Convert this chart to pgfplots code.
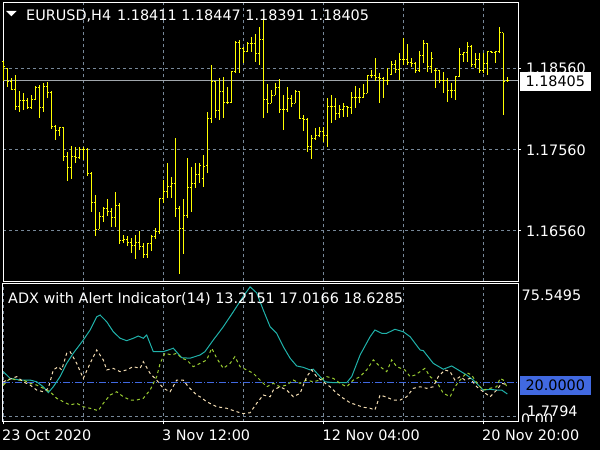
\documentclass[border=0pt]{standalone}
\usepackage{pgfplots}
\pgfplotsset{compat=1.18}
\usepackage{pgfplotstable}
\usepackage{fontspec}
\setmainfont{DejaVu Sans}

\definecolor{barc}{RGB}{255,255,0}
\definecolor{gridc}{RGB}{119,136,153}
\definecolor{bidc}{RGB}{160,166,172}
\definecolor{adxc}{RGB}{32,178,170}
\definecolor{pdic}{RGB}{154,205,50}
\definecolor{mdic}{RGB}{245,222,179}
\definecolor{lvlc}{RGB}{65,105,225}

\newcommand\mt{\fontsize{14.4bp}{17bp}\selectfont}

% EURUSD H4 bars: index, open, high, low, close
\pgfplotstableread{
i O H L C
0 1.18638 1.18650 1.18407 1.18580
1 1.18555 1.18560 1.18325 1.18391
2 1.18391 1.18436 1.18292 1.18301
3 1.18301 1.18477 1.18045 1.18091
4 1.18091 1.18280 1.18024 1.18168
5 1.18168 1.18251 1.18045 1.18160
6 1.18160 1.18189 1.18057 1.18078
7 1.18078 1.18230 1.18057 1.18172
8 1.18172 1.18341 1.18168 1.18325
9 1.18325 1.18354 1.17950 1.18078
10 1.18078 1.18375 1.18024 1.18341
11 1.18341 1.18387 1.18189 1.18259
12 1.18259 1.18280 1.17814 1.17847
13 1.17847 1.17860 1.17675 1.17789
14 1.17789 1.17839 1.17724 1.17831
15 1.17831 1.17839 1.17419 1.17468
16 1.17468 1.17526 1.17172 1.17341
17 1.17341 1.17601 1.17193 1.17468
18 1.17468 1.17592 1.17394 1.17461
19 1.17461 1.17584 1.17436 1.17563
20 1.17563 1.17584 1.17428 1.17563
21 1.17563 1.17580 1.17234 1.17255
22 1.17255 1.17280 1.16789 1.16909
23 1.16909 1.16996 1.16493 1.16572
24 1.16572 1.16789 1.16572 1.16733
25 1.16733 1.16844 1.16666 1.16823
26 1.16823 1.16946 1.16740 1.16789
27 1.16789 1.16839 1.16597 1.16720
28 1.16720 1.17029 1.16597 1.16872
29 1.16872 1.16893 1.16387 1.16428
30 1.16428 1.16502 1.16407 1.16452
31 1.16452 1.16489 1.16366 1.16412
32 1.16412 1.16461 1.16283 1.16366
33 1.16366 1.16502 1.16205 1.16407
34 1.16407 1.16551 1.16317 1.16357
35 1.16357 1.16399 1.16214 1.16255
36 1.16255 1.16407 1.16222 1.16399
37 1.16399 1.16502 1.16304 1.16489
38 1.16489 1.16584 1.16452 1.16551
39 1.16551 1.16962 1.16514 1.16955
40 1.16955 1.17181 1.16901 1.17036
41 1.17036 1.17387 1.16955 1.17098
42 1.17098 1.17222 1.16955 1.17140
43 1.17140 1.17696 1.16728 1.16831
44 1.16831 1.16860 1.16017 1.16580
45 1.16580 1.16946 1.16267 1.16740
46 1.16740 1.17449 1.16715 1.17091
47 1.17091 1.17345 1.16789 1.17140
48 1.17140 1.17394 1.17086 1.17243
49 1.17243 1.17394 1.17140 1.17354
50 1.17205 1.17489 1.17098 1.17345
51 1.17354 1.18017 1.17263 1.17943
52 1.17943 1.18601 1.17881 1.18394
53 1.18394 1.18403 1.17943 1.18036
54 1.18036 1.18436 1.17922 1.18271
55 1.18271 1.18456 1.17943 1.18135
56 1.18135 1.18333 1.18115 1.18135
57 1.18135 1.18526 1.18128 1.18518
58 1.18518 1.18901 1.18498 1.18881
59 1.18881 1.18909 1.18498 1.18807
60 1.18807 1.18823 1.18625 1.18765
61 1.18765 1.18881 1.18760 1.18868
62 1.18868 1.18950 1.18765 1.18868
63 1.18868 1.18983 1.18641 1.18745
64 1.18745 1.19066 1.18601 1.18918
65 1.18918 1.19197 1.17943 1.18177
66 1.18177 1.18366 1.18004 1.18128
67 1.18128 1.18292 1.18128 1.18230
68 1.18230 1.18382 1.18230 1.18325
69 1.18325 1.18424 1.18004 1.18054
70 1.18054 1.18230 1.17798 1.18054
71 1.18054 1.18333 1.18024 1.18189
72 1.18189 1.18230 1.18086 1.18128
73 1.18128 1.18292 1.18128 1.18271
74 1.18271 1.18280 1.17943 1.17943
75 1.17943 1.17983 1.17786 1.17922
76 1.17922 1.17943 1.17530 1.17592
77 1.17592 1.17736 1.17440 1.17699
78 1.17699 1.17819 1.17675 1.17736
79 1.17736 1.17839 1.17712 1.17777
80 1.17777 1.17839 1.17654 1.17736
81 1.17736 1.18189 1.17584 1.18086
82 1.18086 1.18230 1.17881 1.18086
83 1.18086 1.18189 1.17922 1.18004
84 1.18004 1.18107 1.17943 1.18054
85 1.18054 1.18128 1.17962 1.18086
86 1.18086 1.18094 1.17962 1.18078
87 1.18078 1.18271 1.17992 1.18205
88 1.18205 1.18341 1.18073 1.18202
89 1.18202 1.18313 1.18128 1.18205
90 1.18205 1.18366 1.18189 1.18251
91 1.18251 1.18477 1.18251 1.18477
92 1.18477 1.18539 1.18436 1.18477
93 1.18477 1.18691 1.18403 1.18444
94 1.18444 1.18498 1.18135 1.18436
95 1.18436 1.18456 1.18197 1.18415
96 1.18415 1.18560 1.18354 1.18415
97 1.18480 1.18654 1.18477 1.18601
98 1.18601 1.18662 1.18498 1.18547
99 1.18547 1.18745 1.18415 1.18671
100 1.18671 1.18930 1.18601 1.18671
101 1.18671 1.18860 1.18601 1.18629
102 1.18629 1.18683 1.18580 1.18622
103 1.18622 1.18641 1.18498 1.18539
104 1.18539 1.18773 1.18518 1.18724
105 1.18724 1.18909 1.18622 1.18868
106 1.18868 1.18868 1.18518 1.18580
107 1.18580 1.18765 1.18498 1.18683
108 1.18539 1.18560 1.18313 1.18539
109 1.18539 1.18539 1.18375 1.18415
110 1.18415 1.18518 1.18251 1.18415
111 1.18415 1.18436 1.18147 1.18292
112 1.18292 1.18375 1.18189 1.18292
113 1.18292 1.18465 1.18168 1.18456
114 1.18456 1.18807 1.18456 1.18736
115 1.18736 1.18765 1.18641 1.18752
116 1.18752 1.18888 1.18641 1.18835
117 1.18835 1.18847 1.18580 1.18601
118 1.18601 1.18745 1.18560 1.18671
119 1.18671 1.18752 1.18498 1.18539
120 1.18539 1.18745 1.18498 1.18622
121 1.18622 1.18777 1.18477 1.18765
122 1.18765 1.18773 1.18745 1.18757
123 1.18757 1.18773 1.18622 1.18765
124 1.18765 1.19066 1.18745 1.18999
125 1.18999 1.18999 1.17983 1.18403
126 1.18411 1.18447 1.18391 1.18405
}\bars

\begin{document}
\begin{tikzpicture}
\fill[black] (0,0) rectangle (600bp,450bp);

% price window
\begin{axis}[
    at={(3bp,168.7bp)}, anchor=south west, scale only axis,
    width=515bp, height=279bp,
    xmin=-0.075, xmax=128.675, ymin=1.15930, ymax=1.19375,
    clip=false,
    axis line style={draw=white, line width=1bp},
    xtick={20,40,60,80,100,120}, xticklabels={}, xtick style={draw=none},
    ytick={1.16560,1.17560,1.18560}, yticklabels={}, ytick pos=right,
    ytick style={draw=white, line width=1bp},
    tick align=outside, major tick length=3bp,
    grid=major,
    major grid style={draw=gridc, line width=1bp, dash pattern=on 3bp off 3bp},
  ]
  \draw[bidc, line width=1bp] (axis cs:-0.075,1.18405) -- (axis cs:128.675,1.18405);
  \addplot[draw=none, mark=none, error bars/.cd, y dir=both, y explicit, error mark=none,
    error bar style={draw=barc, solid, line width=1bp}]
    table[x=i, y expr={(\thisrow{H}+\thisrow{L})/2}, y error expr={(\thisrow{H}-\thisrow{L})/2}] {\bars};
  \addplot[draw=none, mark=none, error bars/.cd, x dir=minus, x fixed=0.45, error mark=none,
    error bar style={draw=barc, solid, line width=1bp}]
    table[x=i, y=O] {\bars};
  \addplot[draw=none, mark=none, error bars/.cd, x dir=plus, x fixed=0.45, error mark=none,
    error bar style={draw=barc, solid, line width=1bp}]
    table[x=i, y=C] {\bars};
\end{axis}

% ADX window
\begin{axis}[
    at={(3bp,28.3bp)}, anchor=south west, scale only axis,
    width=515bp, height=138bp,
    xmin=-0.075, xmax=128.675, ymin=-2.907, ymax=77.33,
    clip=false,
    axis line style={draw=white, line width=1bp},
    xtick={0,40,80,120}, minor xtick={20,60,100}, xticklabels={},
    xtick pos=bottom, xtick style={draw=white, line width=1bp},
    tick align=outside, major tick length=2.5bp, minor tick length=0pt,
    ytick={0}, yticklabels={}, ytick style={draw=none},
    xmajorgrids, xminorgrids, ymajorgrids,
    major grid style={draw=gridc, line width=1bp, dash pattern=on 3bp off 3bp},
    minor grid style={draw=gridc, line width=1bp, dash pattern=on 3bp off 3bp},
  ]
  \draw[lvlc, line width=1bp, dash pattern=on 7bp off 2bp on 1bp off 2bp]
    (axis cs:-0.075,20) -- (axis cs:128.675,20);
  % ADX
  \addplot[adxc, line width=1bp] coordinates {
    (0,26.2)(1.7,22.3)(4.2,21.3)(6.7,21.3)(8.35,20.3)(10,17.4)(11.25,14.0)(12.5,17.4)
    (14.2,23.3)(15.85,31.0)(17.5,36.9)(20,44.6)(21.7,50.4)(23.35,58.1)(24.2,59.1)
    (25.85,55.2)(27.5,49.4)(29.2,45.6)(30.85,44.2)(32.5,45.6)(33.75,46.9)(35,45.6)
    (35.85,47.5)(37.5,37.8)(40,37.8)(42.5,39.8)(44.6,34.3)(46.7,34.0)(49.2,35.9)
    (50.4,37.8)(52.5,44.6)(55,52.3)(57.5,61.0)(60,70.0)(61.7,75.5)(63.35,72.0)(65,62.0)
    (66.7,52.3)(68.35,48.5)(70,40.7)(71.7,34.0)(73.35,29.5)(75,28.7)(76.7,27.2)
    (77.5,27.6)(79.2,23.3)(80.4,20.3)(82.5,19.8)(85.85,19.8)(87.1,23.3)(89.2,35.9)
    (91.7,46.5)(92.9,50.4)(94.6,48.5)(95.85,48.5)(97.9,50.8)(100,49.4)(101.7,46.5)
    (104.2,38.8)(105,38.4)(107.5,31.0)(110,27.6)(112.1,29.5)(113.75,27.2)(115.85,24.2)
    (117.5,21.3)(120,15.5)(121.7,15.9)(123.35,15.5)(124.6,15.5)(126,13.2151)
  };
  % +DI
  \addplot[pdic, line width=1bp, dash pattern=on 3bp off 3bp] coordinates {
    (0,18.4)(1.7,22.3)(3.35,21.3)(5,21.3)(6.7,19.4)(8.35,18.4)(10,16.5)(11.7,14.5)
    (13.35,10.7)(15,8.7)(16.7,6.8)(18.35,7.8)(20,5.8)(21.7,4.9)(23.75,3.5)(25,7.8)
    (26.7,12.6)(28.35,14.5)(30,11.6)(31.7,9.7)(33.35,9.7)(35,10.7)(36.7,15.5)
    (38.35,23.3)(39.2,31.0)(40.4,36.9)(42.1,35.9)(43.35,36.9)(44.6,34.0)(45.85,33.0)
    (47.5,29.1)(49.2,31.0)(50.85,33.0)(52.1,39.8)(53.35,34.0)(55,28.1)(56.7,31.0)
    (57.9,34.9)(59.2,29.1)(60.85,27.2)(62.5,25.2)(64.2,21.3)(65.85,17.4)(67.5,19.4)
    (69.2,17.4)(70.85,18.4)(72.5,21.3)(74.2,19.4)(75.85,21.3)(77.5,20.3)(79.2,21.3)
    (80.85,23.3)(82.5,22.3)(84.2,19.4)(85.85,17.4)(87.5,21.3)(89.2,23.3)(90.85,27.2)
    (92.5,33.0)(94.2,29.1)(95.85,26.2)(97.1,33.0)(98.35,29.1)(100.4,27.2)(101.7,23.3)
    (102.9,24.2)(104.2,26.2)(105.4,28.1)(106.7,23.3)(108.35,20.3)(110,13.6)(111.7,11.6)
    (112.9,17.4)(114.2,21.3)(115.85,25.6)(117.1,24.2)(118.75,18.4)(120,15.5)(121.7,16.5)
    (123.35,17.4)(124.2,22.3)(125,21.3)(126,17.0166)
  };
  % -DI
  \addplot[mdic, line width=1bp, dash pattern=on 3bp off 3bp] coordinates {
    (0,20.3)(3.35,23.3)(5,20.3)(6.7,18.4)(8.35,15.5)(10,14.5)(11.25,16.5)(12.5,27.2)
    (13.75,29.1)(14.6,27.2)(15.85,36.9)(16.7,37.8)(18.35,31.0)(20,22.3)(21.7,31.0)
    (23.35,38.8)(25,33.0)(25.85,27.2)(27.5,28.1)(29.2,26.2)(30.85,27.2)(32.5,29.1)
    (34.2,28.1)(35,32.0)(36.7,25.2)(38.35,21.3)(40,16.5)(41.7,14.5)(43.35,21.3)(45,21.3)
    (46.25,17.4)(48.35,12.6)(49.2,11.6)(50.85,8.7)(53.35,5.8)(55.85,4.9)(58.35,2.9)
    (60,1.78)(61.7,2.3)(63.35,7.8)(65,12.6)(66.7,11.6)(67.5,15.5)(69.2,17.4)(70.85,15.5)
    (72.5,11.6)(74.2,13.6)(75.85,23.3)(77.1,27.2)(78.35,23.3)(80,20.3)(81.7,17.4)
    (83.35,13.6)(85,10.7)(86.7,8.1)(88.35,6.8)(90,5.5)(91.7,4.9)(92.9,3.9)(94.2,12.6)
    (95.85,11.3)(97.5,9.7)(99.2,9.7)(100.85,11.6)(102.5,16.5)(104.2,17.4)(105.85,16.5)
    (107.5,17.4)(108.75,23.3)(110.4,27.2)(111.7,26.2)(112.9,21.3)(114.2,23.3)(115.4,21.3)
    (116.7,22.3)(118.35,17.4)(120,14.5)(121.7,11.6)(123.35,15.5)(124.6,19.4)(126,18.6285)
  };
\end{axis}

% header and scale labels
\fill[white] (6bp,439bp) -- (16.7bp,439bp) -- (11.35bp,433.7bp) -- cycle;
\node[anchor=base west, inner sep=0, text=white, font=\mt] at (26bp,429.3bp)
  {EURUSD,H4\hspace{6bp}1.18411 1.18447 1.18391 1.18405};
\node[anchor=base west, inner sep=0, text=white, font=\mt] at (8bp,146.7bp)
  {ADX with Alert Indicator(14) 13.2151 17.0166 18.6285};

\node[anchor=base west, inner sep=0, text=white, font=\mt] at (526bp,376.5bp) {1.18560};
\node[anchor=base west, inner sep=0, text=white, font=\mt] at (526bp,294bp) {1.17560};
\node[anchor=base west, inner sep=0, text=white, font=\mt] at (526bp,213.3bp) {1.16560};
\fill[white] (520bp,359.3bp) rectangle (590.7bp,377.7bp);
\node[inner sep=0, text=black, font=\mt] at (555.3bp,368.5bp) {1.18405};

\node[anchor=base west, inner sep=0, text=white, font=\mt] at (521.5bp,149.3bp) {75.5495};
\fill[lvlc] (520bp,55bp) rectangle (590.7bp,74bp);
\node[inner sep=0, text=black, font=\mt] at (555.3bp,64.5bp) {20.0000};
\begin{scope}
  \clip (519bp,28.3bp) rectangle (600bp,45bp);
  \node[anchor=base west, inner sep=0, text=white, font=\mt] at (521bp,26bp) {0.00};
\end{scope}
\node[anchor=base west, inner sep=0, text=white, font=\mt] at (527bp,33.3bp) {1.7794};

\node[anchor=base west, inner sep=0, text=white, font=\mt] at (2bp,9.3bp) {23 Oct 2020};
\node[anchor=base west, inner sep=0, text=white, font=\mt] at (162bp,9.3bp) {3 Nov 12:00};
\node[anchor=base west, inner sep=0, text=white, font=\mt] at (322.5bp,9.3bp) {12 Nov 04:00};
\node[anchor=base west, inner sep=0, text=white, font=\mt] at (482bp,9.3bp) {20 Nov 20:00};

\pgfresetboundingbox
\path[use as bounding box] (0,0) rectangle (600bp,450bp);
\end{tikzpicture}
\end{document}
